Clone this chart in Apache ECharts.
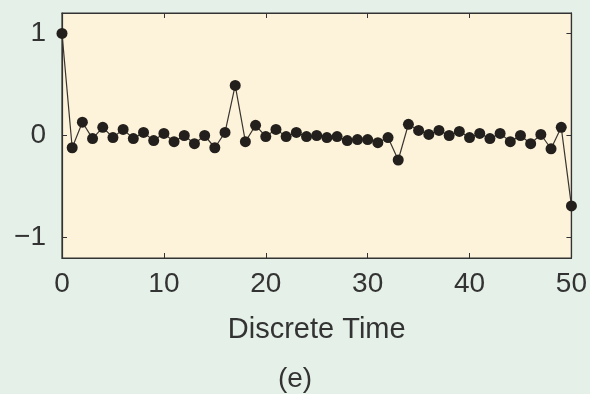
<!DOCTYPE html>
<html>
<head>
<meta charset="utf-8">
<script src="https://cdn.jsdelivr.net/npm/echarts@6/dist/echarts.min.js"></script>
<style>html,body{margin:0;padding:0;background:#e5f1e8;}#c{width:590px;height:394px;}</style>
</head>
<body>
<div id="c"></div>
<script>
const times = [];
for (let i = 0; i <= 50; i++) times.push(i);
const values = [
  1.0, -0.12, 0.13, -0.03, 0.08, -0.02, 0.06, -0.03, 0.03, -0.05,
  0.02, -0.06, 0.0, -0.08, 0.0, -0.12, 0.03, 0.49, -0.06, 0.10,
  -0.01, 0.06, -0.01, 0.03, -0.01, 0.0, -0.02, -0.01, -0.05, -0.04,
  -0.04, -0.07, -0.02, -0.24, 0.11, 0.05, 0.01, 0.05, 0.0, 0.04,
  -0.02, 0.02, -0.03, 0.02, -0.06, 0.0, -0.08, 0.01, -0.13, 0.08,
  -0.69
];
const xTicks = [0, 10, 20, 30, 40, 50];
const yTicks = [-1, 0, 1];
const xLabel = 'Discrete Time';
const panelLabel = '(e)';

const font = 'Liberation Sans, Arial, Helvetica, sans-serif';
const chart = echarts.init(document.getElementById('c'));
const tick = (extra) => Object.assign({ show: true, inside: true, length: 5, lineStyle: { color: '#333', width: 1 } }, extra || {});
const axLine = { onZero: false, lineStyle: { color: '#333', width: 1.2 } };
chart.setOption({
  backgroundColor: '#e5f1e8',
  animation: false,
  title: {
    text: panelLabel, left: 'center', top: 360,
    textStyle: { fontFamily: font, fontSize: 28, fontWeight: 'normal', color: '#333' }
  },
  grid: { left: 62, right: 14, top: 13, bottom: 136, show: true, backgroundColor: '#fdf3da', borderColor: '#333', borderWidth: 1.2 },
  xAxis: [{
    type: 'value', min: 0, max: 50, interval: 10, position: 'bottom',
    name: xLabel, nameLocation: 'middle', nameGap: 57,
    nameTextStyle: { fontFamily: font, fontSize: 29, color: '#333' },
    axisLine: axLine, axisTick: tick(), splitLine: { show: false },
    axisLabel: { fontFamily: font, fontSize: 28, color: '#333', margin: 12,
      formatter: v => xTicks.includes(v) ? String(v) : '' }
  }, {
    type: 'value', min: 0, max: 50, interval: 10, position: 'top',
    axisLine: axLine, axisTick: tick(), splitLine: { show: false }, axisLabel: { show: false }
  }],
  yAxis: [{
    type: 'value', min: -1.2, max: 1.2, position: 'left',
    axisLine: axLine, axisTick: tick({ customValues: yTicks }), splitLine: { show: false },
    axisLabel: { fontFamily: font, fontSize: 28, color: '#333', margin: 16,
      customValues: yTicks, formatter: v => v < 0 ? '\u2212' + Math.abs(v) : String(v) }
  }, {
    type: 'value', min: -1.2, max: 1.2, position: 'right',
    axisLine: axLine, axisTick: tick({ customValues: yTicks }), splitLine: { show: false },
    axisLabel: { show: false }
  }],
  series: [{
    type: 'line', clip: false,
    data: times.map((t, i) => [t, values[i]]),
    symbol: 'circle', symbolSize: 11,
    itemStyle: { color: '#231f1c' },
    lineStyle: { color: '#3a3430', width: 1.2 }
  }]
});
</script>
</body>
</html>
